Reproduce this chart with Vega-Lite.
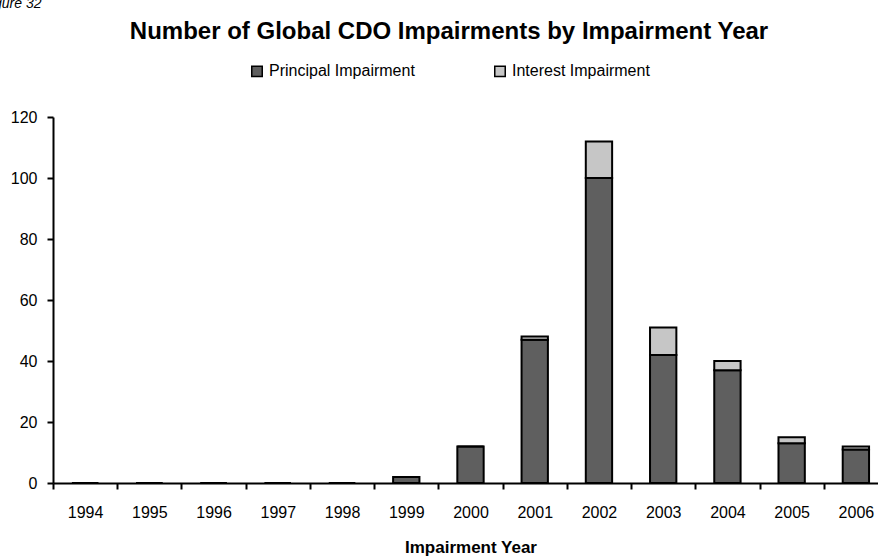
{
  "$schema": "https://vega.github.io/schema/vega-lite/v6.json",
  "width": 825,
  "height": 366,
  "autosize": {"type": "none"},
  "padding": {"left": 53, "top": 117, "right": 0, "bottom": 73},
  "background": "white",
  "title": {
    "text": "Figure 32",
    "anchor": "start",
    "frame": "bounds",
    "fontStyle": "italic",
    "fontWeight": "normal",
    "fontSize": 14,
    "font": "Liberation Sans",
    "color": "black",
    "baseline": "alphabetic",
    "dx": -28,
    "offset": -2
  },
  "data": {
    "values": [
      {"year": "1994", "type": "Principal Impairment", "count": 0},
      {"year": "1994", "type": "Interest Impairment", "count": 0},
      {"year": "1995", "type": "Principal Impairment", "count": 0},
      {"year": "1995", "type": "Interest Impairment", "count": 0},
      {"year": "1996", "type": "Principal Impairment", "count": 0},
      {"year": "1996", "type": "Interest Impairment", "count": 0},
      {"year": "1997", "type": "Principal Impairment", "count": 0},
      {"year": "1997", "type": "Interest Impairment", "count": 0},
      {"year": "1998", "type": "Principal Impairment", "count": 0},
      {"year": "1998", "type": "Interest Impairment", "count": 0},
      {"year": "1999", "type": "Principal Impairment", "count": 2},
      {"year": "1999", "type": "Interest Impairment", "count": 0},
      {"year": "2000", "type": "Principal Impairment", "count": 12},
      {"year": "2000", "type": "Interest Impairment", "count": 0},
      {"year": "2001", "type": "Principal Impairment", "count": 47},
      {"year": "2001", "type": "Interest Impairment", "count": 1},
      {"year": "2002", "type": "Principal Impairment", "count": 100},
      {"year": "2002", "type": "Interest Impairment", "count": 12},
      {"year": "2003", "type": "Principal Impairment", "count": 42},
      {"year": "2003", "type": "Interest Impairment", "count": 9},
      {"year": "2004", "type": "Principal Impairment", "count": 37},
      {"year": "2004", "type": "Interest Impairment", "count": 3},
      {"year": "2005", "type": "Principal Impairment", "count": 13},
      {"year": "2005", "type": "Interest Impairment", "count": 2},
      {"year": "2006", "type": "Principal Impairment", "count": 11},
      {"year": "2006", "type": "Interest Impairment", "count": 1}
    ]
  },
  "mark": {"type": "bar", "stroke": "black", "strokeWidth": 2, "opacity": 1, "width": {"band": 0.41}},
  "encoding": {
    "x": {
      "field": "year",
      "type": "ordinal",
      "scale": {"range": [0, 835], "paddingInner": 0, "paddingOuter": 0},
      "axis": {
        "title": "Impairment Year",
        "titleFont": "Liberation Sans",
        "titleFontSize": 17,
        "titleFontWeight": "bold",
        "titleColor": "black",
        "titlePadding": 19,
        "labelAngle": 0,
        "labelFont": "Liberation Sans",
        "labelFontSize": 16,
        "labelColor": "black",
        "labelPadding": 15,
        "tickBand": "extent",
        "tickSize": 6,
        "tickWidth": 2,
        "tickColor": "black",
        "domainColor": "black",
        "domainWidth": 2,
        "grid": false
      }
    },
    "y": {
      "field": "count",
      "type": "quantitative",
      "stack": "zero",
      "scale": {"domain": [0, 120]},
      "axis": {
        "title": null,
        "values": [0, 20, 40, 60, 80, 100, 120],
        "labelFont": "Liberation Sans",
        "labelFontSize": 16,
        "labelColor": "black",
        "labelPadding": 10,
        "tickSize": 6,
        "tickWidth": 2,
        "tickColor": "black",
        "domainColor": "black",
        "domainWidth": 2,
        "grid": false
      }
    },
    "color": {
      "field": "type",
      "type": "nominal",
      "sort": ["Principal Impairment", "Interest Impairment"],
      "scale": {
        "domain": ["Principal Impairment", "Interest Impairment"],
        "range": ["#5f5f5f", "#c6c6c6"]
      },
      "legend": {
        "orient": "none",
        "legendX": 77,
        "legendY": -97,
        "direction": "horizontal",
        "columns": 2,
        "title": "Number of Global CDO Impairments by Impairment Year",
        "titleOrient": "top",
        "titleAnchor": "middle",
        "titleFont": "Liberation Sans",
        "titleFontSize": 24,
        "titleFontWeight": "bold",
        "titleColor": "black",
        "titlePadding": 19,
        "titleLimit": 0,
        "labelFont": "Liberation Sans",
        "labelFontSize": 16,
        "labelColor": "black",
        "labelLimit": 0,
        "labelOffset": 4,
        "symbolType": "square",
        "symbolSize": 110,
        "symbolStrokeColor": "black",
        "symbolStrokeWidth": 1.5,
        "symbolOpacity": 1,
        "columnPadding": 76
      }
    }
  },
  "config": {"view": {"stroke": null}}
}
